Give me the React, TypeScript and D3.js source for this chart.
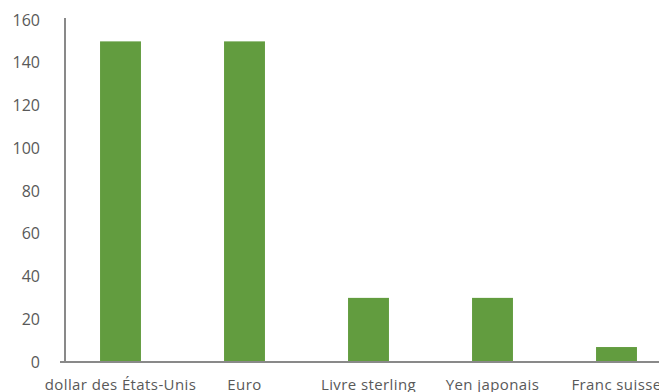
import React from "react";
import * as d3 from "d3";

const categories = ["dollar des États-Unis", "Euro", "Livre sterling", "Yen japonais", "Franc suisse"];
const values = [150, 150, 30, 30, 7];
const yTicks = [0, 20, 40, 60, 80, 100, 120, 140, 160];

const W = 659;
const H = 392;

export default function App() {
  const x = d3
    .scaleBand<string>()
    .domain(categories)
    .range([58.5, 678.5])
    .paddingInner(0.67)
    .paddingOuter(0.335);
  const y = d3.scaleLinear().domain([0, 160]).range([362, 20]);
  const font = "'Open Sans', 'DejaVu Sans', sans-serif";
  return (
    <svg
      width={W}
      height={H}
      style={{ position: "absolute", left: 0, top: 0, background: "#fff" }}
    >
      {yTicks.map((t) => (
        <text
          key={t}
          x={40}
          y={y(t)}
          dy="0.35em"
          textAnchor="end"
          fontSize={16}
          fill="#595959"
          fontFamily={font}
        >
          {t}
        </text>
      ))}
      {categories.map((c, i) => (
        <rect
          key={c}
          x={x(c)}
          y={y(values[i])}
          width={x.bandwidth()}
          height={y(0) - y(values[i])}
          fill="#629C3F"
        />
      ))}
      <line x1={65} x2={65} y1={18} y2={362} stroke="#898989" strokeWidth={2} />
      <line x1={60} x2={W} y1={362} y2={362} stroke="#898989" strokeWidth={2} />
      {categories.map((c) => (
        <text
          key={c}
          x={(x(c) ?? 0) + x.bandwidth() / 2}
          y={390}
          textAnchor="middle"
          fontSize={15}
          letterSpacing={0.4}
          fill="#595959"
          fontFamily={font}
        >
          {c}
        </text>
      ))}
    </svg>
  );
}
